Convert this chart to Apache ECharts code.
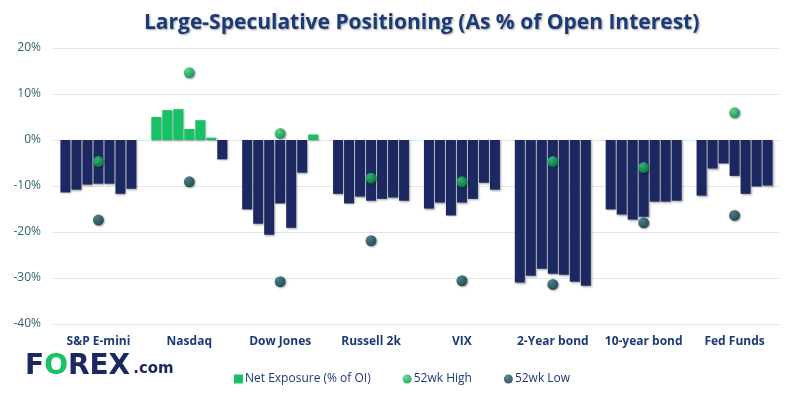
<!DOCTYPE html>
<html>
<head>
<meta charset="utf-8">
<script src="https://cdn.jsdelivr.net/npm/echarts@6/dist/echarts.min.js"></script>
<style>
  html, body { margin: 0; padding: 0; background: #fff; }
  #chart { width: 792px; height: 396px; }
</style>
</head>
<body>
<div id="chart"></div>
<script>
// markets on the x axis
const categories = ['S&P E-mini', 'Nasdaq', 'Dow Jones', 'Russell 2k', 'VIX', '2-Year bond', '10-year bond', 'Fed Funds'];

// net exposure (% of OI), last 7 weeks, oldest first
const spx = [-11.4, -10.8, -9.7, -9.5, -9.5, -11.7, -10.6];
const nasdaq = [5.0, 6.5, 6.7, 2.4, 4.3, 0.5, -4.2];
const dow = [-15.1, -18.2, -20.6, -13.8, -19.1, -7.1, 1.2];
const russell = [-11.7, -13.8, -12.3, -13.2, -12.8, -12.5, -13.2];
const vix = [-14.9, -13.6, -16.4, -13.6, -12.8, -9.3, -10.8];
const twoYear = [-31.0, -29.5, -28.0, -29.1, -29.3, -30.8, -31.7];
const tenYear = [-15.1, -16.2, -17.3, -16.7, -13.4, -13.4, -13.2];
const fedFunds = [-12.1, -6.2, -5.1, -7.8, -11.7, -10.1, -9.9];

// 52 week extremes
const high52 = [-4.7, 14.6, 1.4, -8.3, -9.1, -4.7, -6.0, 5.9];
const low52 = [-17.4, -9.1, -30.8, -21.9, -30.6, -31.4, -18.0, -16.4];

// y axis ticks
const yMin = -40;
const yMax = 20;
const yStep = 10;

const weekly = [spx, nasdaq, dow, russell, vix, twoYear, tenYear, fedFunds];
const GREEN = '#17c266';
const NAVY = '#1b2862';

const chart = echarts.init(document.getElementById('chart'));

// one bar series per week, same name so the legend shows it once
const barSeries = [0, 1, 2, 3, 4, 5, 6].map(w => ({
  name: 'Net Exposure (% of OI)',
  type: 'bar',
  barWidth: 10,
  barGap: '10%',
  itemStyle: {
    color: GREEN,
    shadowColor: 'rgba(0,0,0,0.35)',
    shadowBlur: 2,
    shadowOffsetX: 1,
    shadowOffsetY: 1
  },
  emphasis: { disabled: true },
  data: weekly.map(vals => ({
    value: vals[w],
    itemStyle: { color: vals[w] >= 0 ? GREEN : NAVY }
  }))
}));

function ball (light, dark) {
  return new echarts.graphic.RadialGradient(0.35, 0.3, 0.7, [
    { offset: 0, color: light },
    { offset: 1, color: dark }
  ]);
}

chart.setOption({
  animation: false,
  title: {
    text: 'Large-Speculative Positioning (As % of Open Interest)',
    left: 139,
    top: 8,
    textStyle: {
      fontFamily: 'Open Sans',
      fontSize: 21,
      fontWeight: 'bold',
      color: '#1b3a78',
      textShadowColor: 'rgba(0,0,0,0.35)',
      textShadowBlur: 2,
      textShadowOffsetX: 1,
      textShadowOffsetY: 1
    }
  },
  legend: {
    data: [
      { name: 'Net Exposure (% of OI)', icon: 'rect' },
      { name: '52wk High', icon: 'circle' },
      { name: '52wk Low', icon: 'circle' }
    ],
    left: 229,
    top: 368,
    itemWidth: 9,
    itemHeight: 9,
    itemGap: 32,
    textStyle: { fontFamily: 'Open Sans', fontSize: 12, color: '#1b3a78', padding: [0, 0, 0, -3] }
  },
  grid: { left: 53, right: 12, top: 48, bottom: 72, containLabel: false },
  xAxis: {
    type: 'category',
    data: categories,
    axisLine: { show: false },
    axisTick: { show: false },
    axisLabel: {
      interval: 0,
      margin: 12,
      fontFamily: 'Open Sans',
      fontSize: 12,
      fontWeight: 'bold',
      color: '#1b3a78'
    }
  },
  yAxis: {
    type: 'value',
    min: yMin,
    max: yMax,
    interval: yStep,
    axisLine: { show: false },
    axisTick: { show: false },
    axisLabel: {
      formatter: '{value}%',
      fontFamily: 'Open Sans',
      fontSize: 12,
      color: '#35626c',
      margin: 12
    },
    splitLine: { lineStyle: { color: '#dfe6e6' } }
  },
  graphic: [{
    type: 'text',
    left: 25,
    top: 353,
    style: {
      text: '{a|F}{b|O}{a|REX}{c|.com}',
      rich: {
        a: { fontFamily: 'DejaVu Sans', fontWeight: 'bold', fontSize: 28, fill: '#1b2862' },
        b: { fontFamily: 'DejaVu Sans', fontWeight: 'bold', fontSize: 28, fill: '#17c266' },
        c: { fontFamily: 'DejaVu Sans', fontWeight: 'bold', fontSize: 15, fill: '#1b2862', verticalAlign: 'bottom', padding: [0, 0, 4, 3] }
      }
    }
  }],
  series: barSeries.concat([
    {
      name: '52wk High',
      type: 'scatter',
      symbolSize: 11,
      z: 5,
      itemStyle: {
        color: ball('#3ed67f', '#048f42'),
        shadowColor: 'rgba(0,0,0,0.4)',
        shadowBlur: 2,
        shadowOffsetX: 1,
        shadowOffsetY: 1
      },
      data: high52
    },
    {
      name: '52wk Low',
      type: 'scatter',
      symbolSize: 11,
      z: 5,
      itemStyle: {
        color: ball('#2c6e78', '#083740'),
        shadowColor: 'rgba(0,0,0,0.4)',
        shadowBlur: 2,
        shadowOffsetX: 1,
        shadowOffsetY: 1
      },
      data: low52
    }
  ])
});
</script>
</body>
</html>
